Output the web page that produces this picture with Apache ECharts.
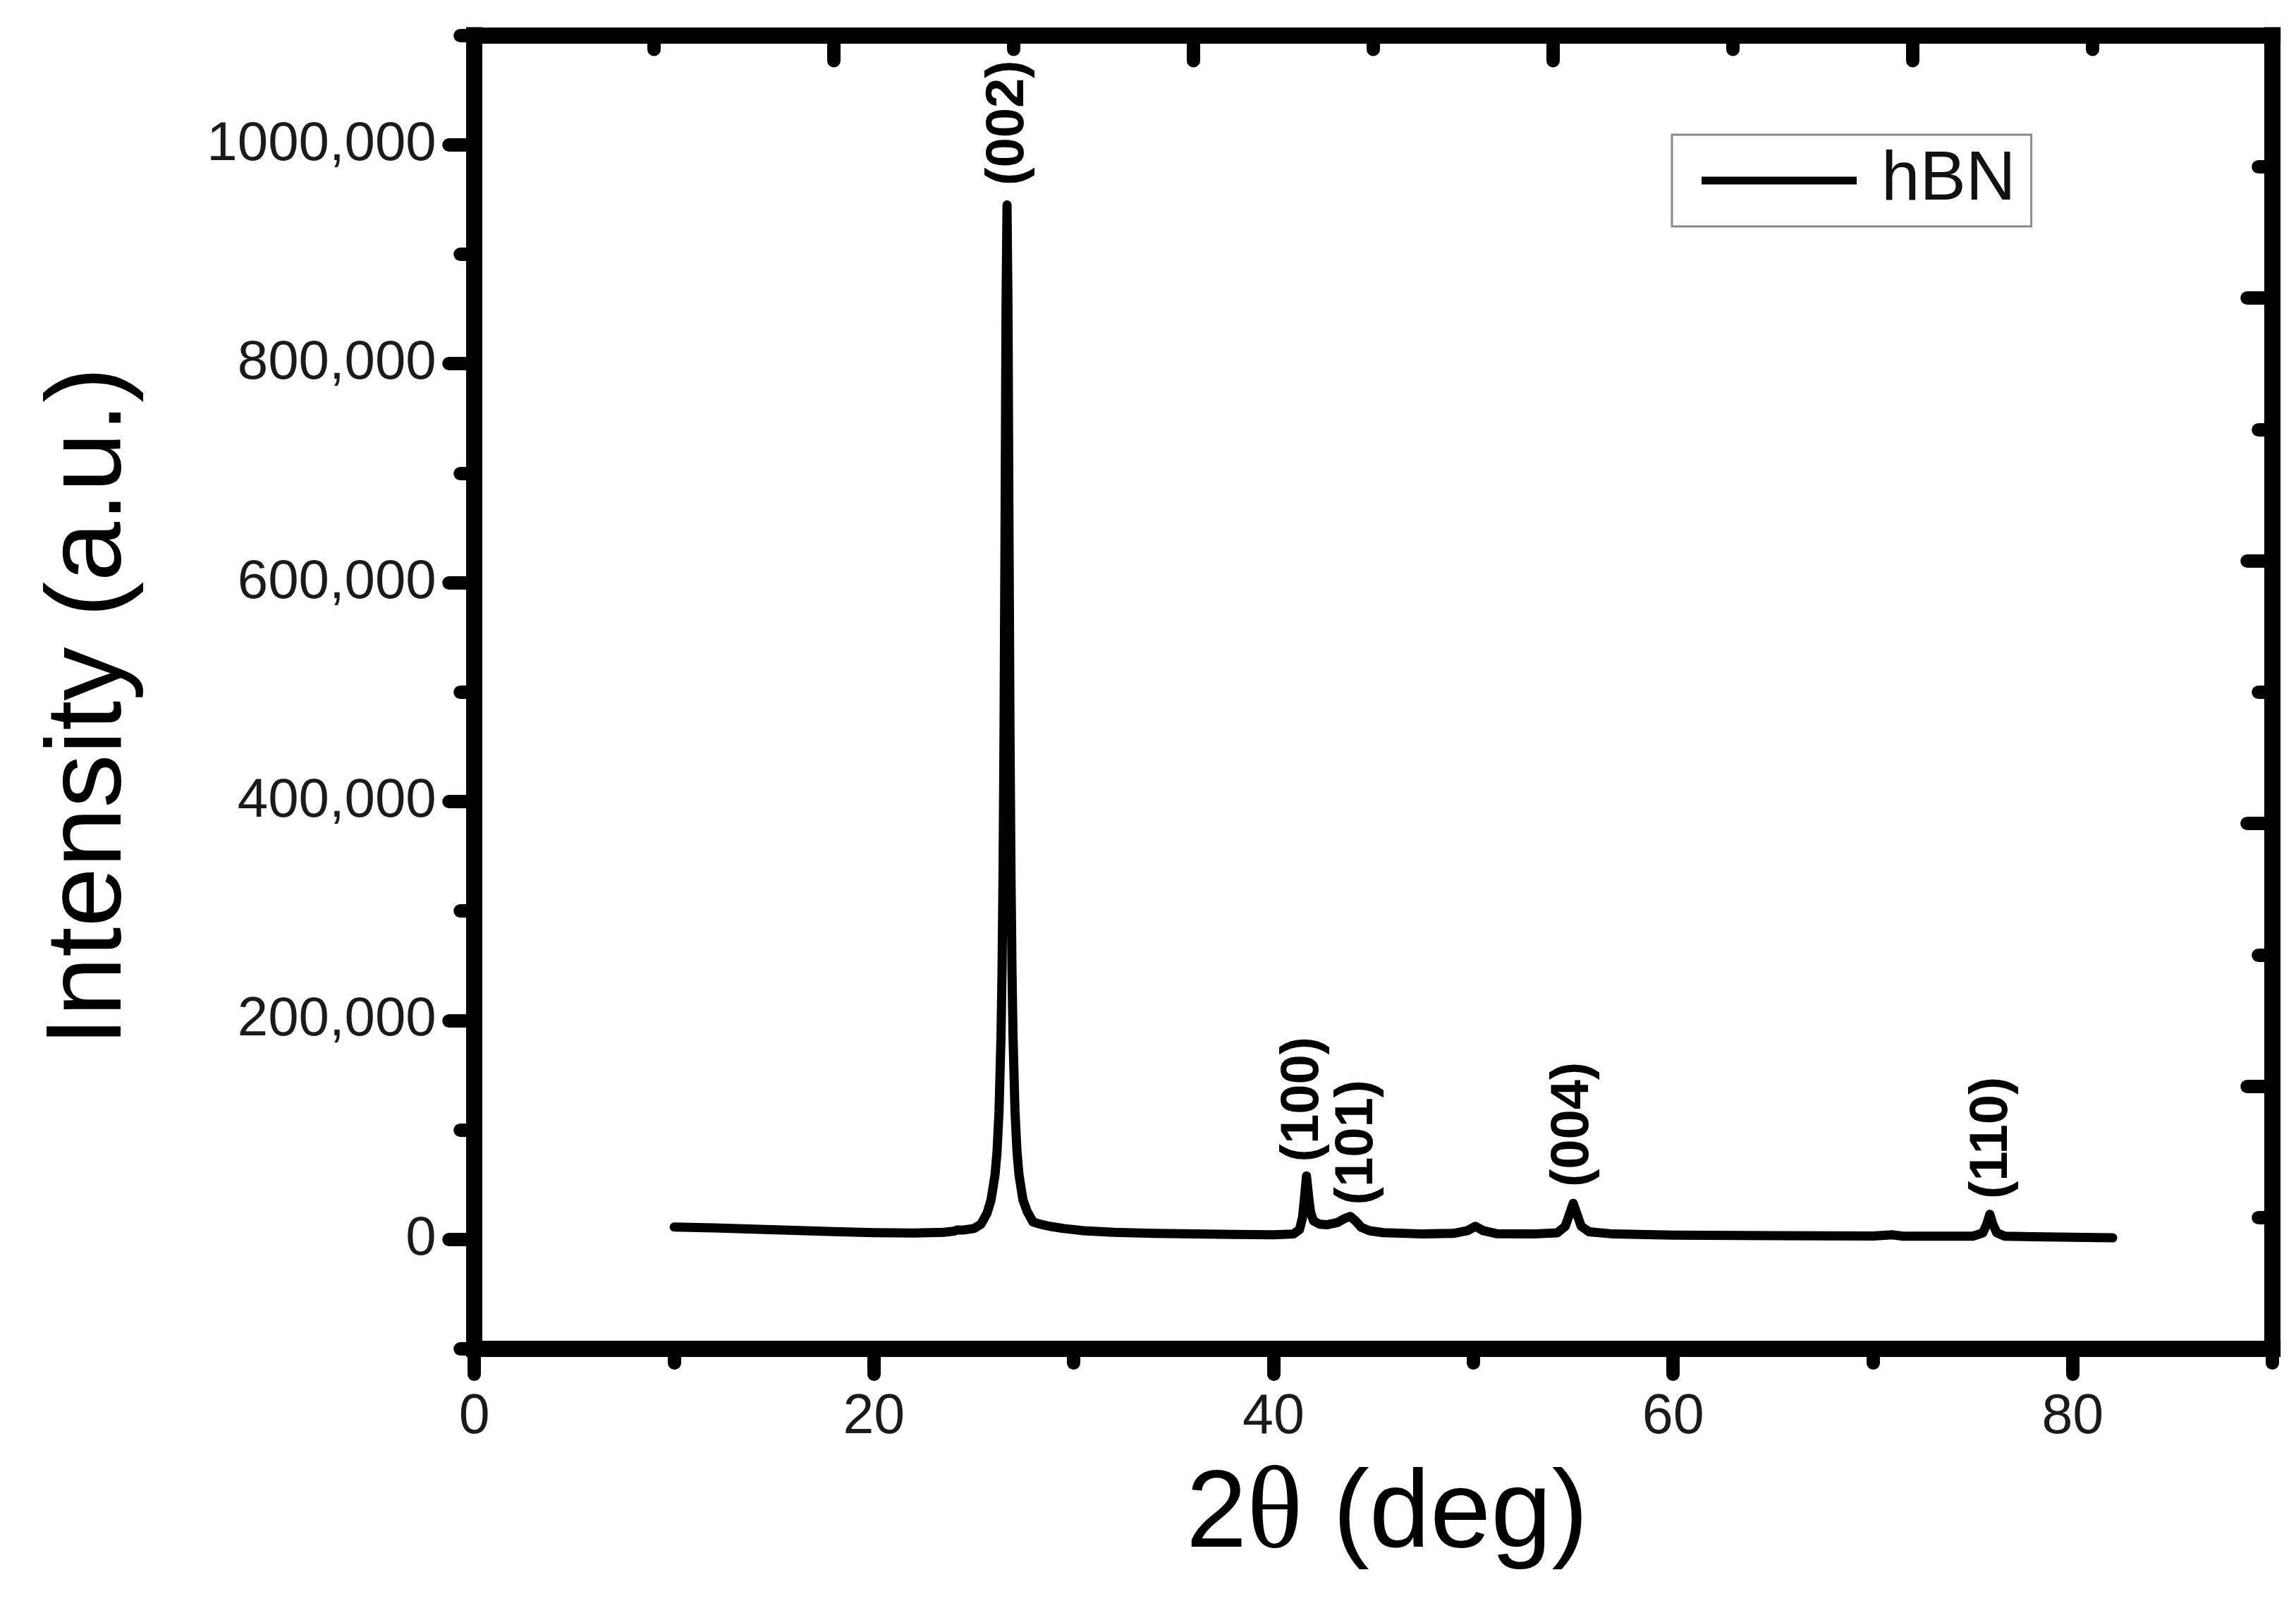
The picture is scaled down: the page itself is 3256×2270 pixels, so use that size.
<!DOCTYPE html>
<html>
<head>
<meta charset="utf-8">
<script src="https://cdn.jsdelivr.net/npm/echarts@6/dist/echarts.min.js"></script>
<style>html,body{margin:0;padding:0;background:#fff}#c{width:3256px;height:2270px}</style>
</head>
<body>
<div id="c"></div>
<script>
// ---- data ----
const twoTheta = [10, 12, 14, 16, 18, 20, 22, 23.5, 24.0, 24.15, 24.5, 25.0, 25.36, 25.66, 25.86, 26.06, 26.16, 26.26, 26.36, 26.41, 26.46, 26.51, 26.56, 26.61, 26.66, 26.71, 26.76, 26.81, 26.86, 26.91, 26.96, 27.06, 27.16, 27.26, 27.46, 27.66, 27.96, 28.3, 28.8, 29.5, 30.5, 32, 34, 36, 38, 40, 41.0, 41.3, 41.45, 41.55, 41.65, 41.75, 41.85, 42.0, 42.3, 42.7, 43.2, 43.6, 43.85, 44.1, 44.4, 44.8, 45.5, 47.5, 49.0, 49.7, 50.1, 50.5, 51.2, 53, 54.2, 54.6, 54.85, 55.0, 55.15, 55.4, 55.8, 57, 60, 65, 70, 71.0, 71.5, 75.0, 75.5, 75.7, 75.85, 76.0, 76.2, 76.6, 78, 80, 82];
const intensity = [11300, 10500, 9500, 8300, 7200, 6200, 5900, 6500, 7600, 8600, 8700, 10000, 14000, 24000, 36000, 59000, 80000, 117000, 186000, 244000, 332000, 462000, 645000, 850000, 945000, 850000, 645000, 462000, 332000, 244000, 186000, 117000, 80000, 59000, 36000, 26000, 16000, 14000, 12000, 10000, 8000, 6500, 5500, 5000, 4600, 4300, 5000, 9000, 20000, 38000, 58000, 40000, 25000, 17000, 14000, 13500, 15500, 19500, 21000, 17000, 11000, 8000, 6200, 5000, 5500, 8000, 12000, 8000, 5200, 5000, 6000, 12000, 25000, 33000, 25000, 12000, 7000, 5000, 4000, 3500, 3200, 4200, 3000, 3000, 6000, 14000, 23000, 14000, 6000, 3000, 2500, 2000, 1500];

const peakLabels = ['(002)', '(100)', '(101)', '(004)', '(110)'];
const peakLabelX = [26.72, 41.5, 44.2, 55.0, 75.95];
const peakLabelY = [1020000, 128000, 88700, 105000, 92800];

const xTickMajor = [0, 20, 40, 60, 80];
const xTickMinor = [10, 30, 50, 70, 90];
const yTickMajor = [0, 200000, 400000, 600000, 800000, 1000000];
const yTickLabels = ['0', '200,000', '400,000', '600,000', '800,000', '1000,000'];
const yTickMinor = [-100000, 100000, 300000, 500000, 700000, 900000, 1100000];
const mirrorMajor = [2, 4, 6, 8];
const mirrorMinor = [1, 3, 5, 7, 9];

const seriesName = 'hBN';
const xTitle = '2θ (deg)';
const yTitle = 'Intensity (a.u.)';

// ---- chart ----
const FONT = "'Liberation Sans', Arial, sans-serif";
const AX_W = 23, TICK_W = 19, MAJ = 36, MIN = 20;
const chart = echarts.init(document.getElementById('c'), null, {renderer: 'canvas'});

const lineData = twoTheta.map((x, i) => [x, intensity[i]]);
const labelData = peakLabels.map((t, i) => [peakLabelX[i], peakLabelY[i], t]);

function axisLine(show) {
  return {show: show, onZero: false, lineStyle: {color: '#000', width: AX_W, cap: 'square'}};
}
function tick(values, len, inside) {
  return {show: true, inside: !!inside, length: len, customValues: values,
          lineStyle: {color: '#000', width: TICK_W, cap: 'round'}};
}

const option = {
  backgroundColor: '#fff',
  animation: false,
  grid: {left: 672.7, right: 33.3, top: 50, bottom: 357.4, containLabel: false},
  legend: {
    data: [seriesName],
    left: 2371, top: 191,
    orient: 'horizontal',
    icon: 'rect',
    itemWidth: 220, itemHeight: 11,
    padding: [16, 22, 16, 42],
    borderColor: '#8a8a8a', borderWidth: 3,
    backgroundColor: '#fff',
    selectedMode: false,
    textStyle: {fontFamily: FONT, fontSize: 98, color: '#111', padding: [0, 0, 0, 30]}
  },
  xAxis: [
    {type: 'value', position: 'bottom', min: 0, max: 90, interval: 10,
     axisLine: axisLine(true), splitLine: {show: false},
     axisTick: tick(xTickMajor, MAJ, false),
     axisLabel: {show: true, customValues: xTickMajor, margin: 58, fontFamily: FONT, fontSize: 79, color: '#1a1a1a'}},
    {type: 'value', position: 'bottom', min: 0, max: 90, interval: 10,
     axisLine: axisLine(false), splitLine: {show: false},
     axisTick: tick(xTickMinor, MIN, false), axisLabel: {show: false}},
    {type: 'value', position: 'top', min: 0, max: 10, interval: 1,
     axisLine: axisLine(true), splitLine: {show: false},
     axisTick: tick(mirrorMajor, MAJ, true), axisLabel: {show: false}},
    {type: 'value', position: 'top', min: 0, max: 10, interval: 1,
     axisLine: axisLine(false), splitLine: {show: false},
     axisTick: tick(mirrorMinor, MIN, true), axisLabel: {show: false}}
  ],
  yAxis: [
    {type: 'value', position: 'left', min: -100000, max: 1100000, interval: 100000,
     axisLine: axisLine(true), splitLine: {show: false},
     axisTick: tick(yTickMajor, MAJ, false),
     axisLabel: {show: true, customValues: yTickMajor, margin: 54, fontFamily: FONT, fontSize: 78, color: '#1a1a1a',
                 formatter: v => { const i = yTickMajor.indexOf(v); return i >= 0 ? yTickLabels[i] : ''; }}},
    {type: 'value', position: 'left', min: -100000, max: 1100000, interval: 100000,
     axisLine: axisLine(false), splitLine: {show: false},
     axisTick: tick(yTickMinor, MIN, false), axisLabel: {show: false}},
    {type: 'value', position: 'right', min: 0, max: 10, interval: 1,
     axisLine: axisLine(true), splitLine: {show: false},
     axisTick: tick(mirrorMajor, MAJ, true), axisLabel: {show: false}},
    {type: 'value', position: 'right', min: 0, max: 10, interval: 1,
     axisLine: axisLine(false), splitLine: {show: false},
     axisTick: tick(mirrorMinor, MIN, true), axisLabel: {show: false}}
  ],
  series: [
    {name: seriesName, type: 'line', xAxisIndex: 0, yAxisIndex: 0, data: lineData,
     showSymbol: false, symbol: 'none', smooth: false, z: 3,
     lineStyle: {color: '#000', width: 13, join: 'round', cap: 'round'},
     itemStyle: {color: '#000'}},
    {name: 'labels', type: 'scatter', xAxisIndex: 0, yAxisIndex: 0, data: labelData,
     symbolSize: 0.1, itemStyle: {color: 'rgba(0,0,0,0)'}, silent: true, z: 5,
     label: {show: true, position: 'inside', rotate: 90, formatter: p => p.value[2],
             fontFamily: FONT, fontWeight: 'bold', fontSize: 76, color: '#000',
             textBorderWidth: 0, textBorderColor: 'transparent', textShadowBlur: 0, opacity: 1}}
  ],
  graphic: [
    {type: 'text', x: 129, y: 1002, rotation: Math.PI / 2, z: 10,
     style: {text: yTitle, x: 0, y: 0, align: 'center', verticalAlign: 'middle',
             textAlign: 'center', textVerticalAlign: 'middle',
             font: "152px 'Liberation Sans', Arial, sans-serif", fill: '#000'}},
    {type: 'text', x: 1967, y: 2150, z: 10,
     style: {text: '{a|2}{b|θ}{a| (deg)}', x: 0, y: 0, align: 'center', verticalAlign: 'middle',
             textAlign: 'center', textVerticalAlign: 'middle', fill: '#000',
             rich: {a: {fontFamily: FONT, fontSize: 155, fill: '#000', color: '#000'},
                    b: {fontFamily: "'Liberation Serif', serif", fontSize: 165, fill: '#000', color: '#000'}}}}
  ]
};
chart.setOption(option);
</script>
</body>
</html>
